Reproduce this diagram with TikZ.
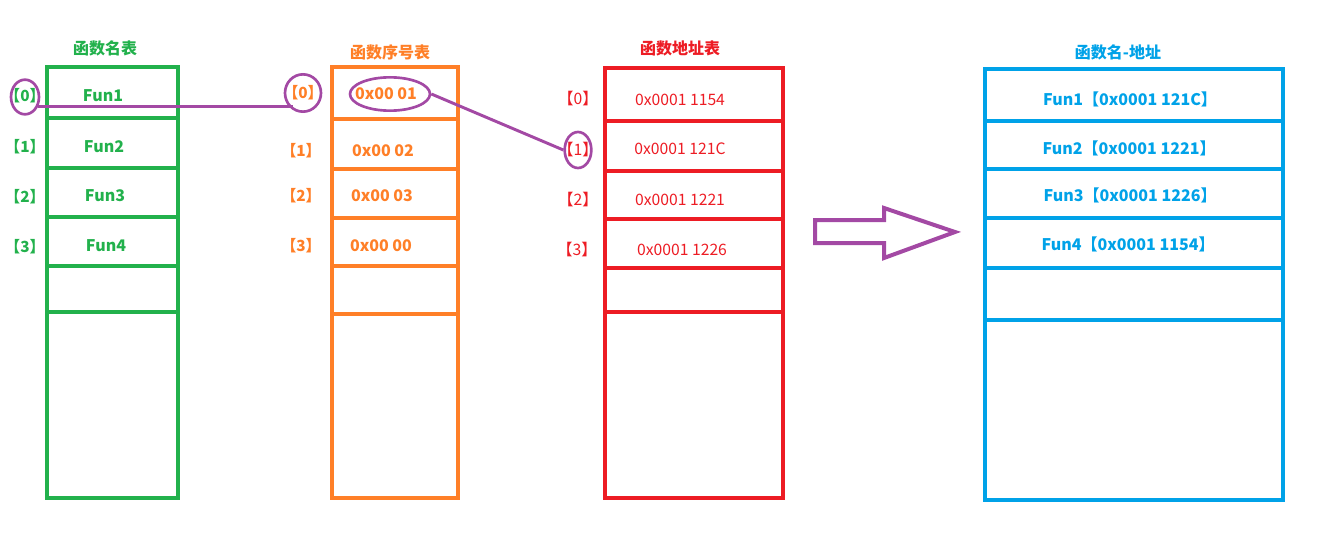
\documentclass[tikz,border=0pt]{standalone}
\usepackage{fontspec}
\setmainfont{Noto Sans CJK SC}
\usetikzlibrary{shapes.geometric}
\definecolor{gr}{HTML}{22B14C}
\definecolor{orn}{HTML}{FF7F27}
\definecolor{rd}{HTML}{ED1C24}
\definecolor{bl}{HTML}{00A2E8}
\definecolor{pu}{HTML}{A349A4}
\tikzset{
  tbl/.style={draw, line width=3pt, inner sep=0pt, outer sep=0pt, fill=none},
  div/.style={line width=3pt},
  ttl/.style={font=\bfseries\fontsize{12}{14}\selectfont, inner sep=0pt},
  lbl/.style={font=\bfseries\fontsize{11.5}{14}\selectfont, inner sep=0pt},
  val/.style={font=\bfseries\fontsize{12}{14}\selectfont, inner sep=0pt},
  rval/.style={font=\fontsize{11.8}{14}\selectfont, inner sep=0pt},
  ring/.style={draw=pu, line width=2pt, ellipse, inner sep=0pt},
  link/.style={draw=pu, line width=2.2pt}
}
\begin{document}
\begin{tikzpicture}[x=0.75pt,y=-0.75pt]
\useasboundingbox (0,0) rectangle (1328,535);
% ---- green: function name table
\node[ttl, text=gr] (t1) at (105,48) {函数名表};
\node[tbl, draw=gr, minimum width=98.25pt, minimum height=323.25pt] (T1) at (112.5,282.5) {};
\foreach \yy in {118,168,217,266,312} \draw[div, gr] (T1.west |- 0,\yy) -- (T1.east |- 0,\yy);
\node[lbl, text=gr] (g0) at (25,96) {【0】};
\node[lbl, text=gr] (g1) at (25,147) {【1】};
\node[lbl, text=gr] (g2) at (25,197) {【2】};
\node[lbl, text=gr] (g3) at (25,247) {【3】};
\node[val, text=gr] (f1) at (103,96) {Fun1};
\node[val, text=gr] (f2) at (104,147) {Fun2};
\node[val, text=gr] (f3) at (105,196) {Fun3};
\node[val, text=gr] (f4) at (106,246) {Fun4};
% ---- orange: index table
\node[ttl, text=orn] (t2) at (390,52) {函数序号表};
\node[tbl, draw=orn, minimum width=94.5pt, minimum height=323.25pt] (T2) at (395,282.5) {};
\foreach \yy in {119,169,218,266,314} \draw[div, orn] (T2.west |- 0,\yy) -- (T2.east |- 0,\yy);
\node[lbl, text=orn] (o0) at (303,93) {【0】};
\node[lbl, text=orn] (o1) at (301,151) {【1】};
\node[lbl, text=orn] (o2) at (301,196) {【2】};
\node[lbl, text=orn] (o3) at (301,246) {【3】};
\node[val, text=orn] (v1) at (386,94) {0x00 01};
\node[val, text=orn] (v2) at (383,151) {0x00 02};
\node[val, text=orn] (v3) at (382,196) {0x00 03};
\node[val, text=orn] (v4) at (381,246) {0x00 00};
% ---- red: address table
\node[ttl, text=rd] (t3) at (680,48) {函数地址表};
\node[tbl, draw=rd, minimum width=133.5pt, minimum height=322.5pt] (T3) at (694,283) {};
\foreach \yy in {121,171,219,268,312} \draw[div, rd] (T3.west |- 0,\yy) -- (T3.east |- 0,\yy);
\node[rval, text=rd] (r0) at (578,99) {【0】};
\node[rval, text=rd] (r1) at (578,150) {【1】};
\node[rval, text=rd] (r2) at (578,200) {【2】};
\node[rval, text=rd] (r3) at (577,250) {【3】};
\node[rval, text=rd] (a1) at (680,100) {0x0001 1154};
\node[rval, text=rd] (a2) at (680,149) {0x0001 121C};
\node[rval, text=rd] (a3) at (680,200) {0x0001 1221};
\node[rval, text=rd] (a4) at (682,250) {0x0001 1226};
% ---- blue: result table
\node[ttl, text=bl] (t4) at (1118,52) {函数名-地址};
\node[tbl, draw=bl, minimum width=223.5pt, minimum height=323.25pt] (T4) at (1134,284.5) {};
\foreach \yy in {121,169,218,268,320} \draw[div, bl] (T4.west |- 0,\yy) -- (T4.east |- 0,\yy);
\node[val, text=bl] (b1) at (1130,99) {Fun1【0x0001 121C】};
\node[val, text=bl] (b2) at (1129,148) {Fun2【0x0001 1221】};
\node[val, text=bl] (b3) at (1130,195) {Fun3【0x0001 1226】};
\node[val, text=bl] (b4) at (1128,244) {Fun4【0x0001 1154】};
% ---- purple rings and links
\node[ring, minimum width=21pt, minimum height=26pt] (gc) at (25,97) {};
\node[ring, minimum width=27pt, minimum height=28pt] (oc) at (303,93) {};
\node[ring, minimum width=60pt, minimum height=25pt] (oe) at (390,94) {};
\node[ring, minimum width=20pt, minimum height=27pt] (rc) at (578,150) {};
\draw[link] (gc.-35) -- (oc.-120 |- gc.-35);
\draw[link] (oe.east) -- (rc.west);
% ---- block arrow
\draw[pu, line width=3pt, line join=miter] (815,220) -- (884,220) -- (884,208) -- (955,232) -- (884,258) -- (884,243) -- (815,243) -- cycle;
\end{tikzpicture}
\end{document}
